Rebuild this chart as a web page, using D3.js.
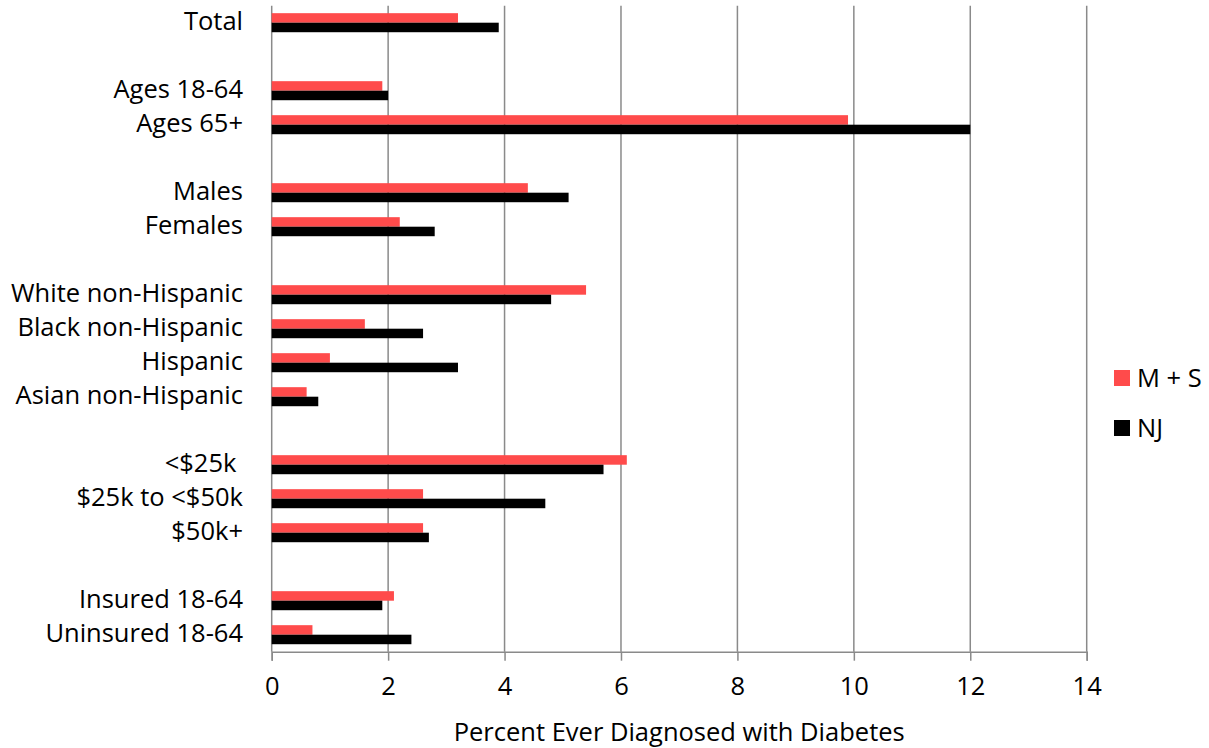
<!DOCTYPE html>
<html>
<head>
<meta charset="utf-8">
<script src="https://cdn.jsdelivr.net/npm/d3@7"></script>
<style>
  html, body { margin: 0; padding: 0; background: #ffffff; }
  svg { display: block; }
  text { font-family: "Open Sans", "DejaVu Sans", sans-serif; fill: #000; }
</style>
</head>
<body>
<svg id="chart" width="1209" height="748"></svg>
<script>
// ---- data ----
const categories = ["Total", "", "Ages 18-64", "Ages 65+", "", "Males", "Females", "",
  "White non-Hispanic", "Black non-Hispanic", "Hispanic", "Asian non-Hispanic", "",
  "<$25k ", "$25k to <$50k", "$50k+", "", "Insured 18-64", "Uninsured 18-64"];
const seriesNames = ["M + S", "NJ"];
const msValues = [3.2, null, 1.9, 9.9, null, 4.4, 2.2, null, 5.4, 1.6, 1.0, 0.6, null, 6.1, 2.6, 2.6, null, 2.1, 0.7];
const njValues = [3.9, null, 2.0, 12.0, null, 5.1, 2.8, null, 4.8, 2.6, 3.2, 0.8, null, 5.7, 4.7, 2.7, null, 1.9, 2.4];
const xTicks = [0, 2, 4, 6, 8, 10, 12, 14];
const xTitle = "Percent Ever Diagnosed with Diabetes";
const colors = ["#FF4B4B", "#000000"];

// ---- layout ----
const svg = d3.select("#chart");
const pLeft = 271.7, pRight = 1086.7, pTop = 5.7, pBottom = 651.7;
const fs = 25.5;

const x = d3.scaleLinear().domain([0, 14]).range([pLeft, pRight]);
const y = d3.scaleBand().domain(d3.range(categories.length)).range([pTop, pBottom]).padding(0);
const ySub = d3.scaleBand().domain(seriesNames)
  .range([y.bandwidth() * 0.22, y.bandwidth() * 0.78]).padding(0);

// gridlines
svg.append("g").selectAll("line").data(xTicks).join("line")
  .attr("x1", d => x(d)).attr("x2", d => x(d))
  .attr("y1", pTop).attr("y2", pBottom)
  .attr("stroke", "#8a8a8a").attr("stroke-width", 1.5);

// bars
const series = [msValues, njValues];
const rows = svg.append("g").selectAll("g").data(categories.map((c, i) => i)).join("g")
  .attr("transform", i => `translate(0,${y(i)})`);
rows.selectAll("rect")
  .data(i => seriesNames.map((s, k) => ({ s, k, v: series[k][i] })).filter(d => d.v !== null))
  .join("rect")
  .attr("x", x(0))
  .attr("y", d => ySub(d.s))
  .attr("width", d => x(d.v) - x(0))
  .attr("height", ySub.bandwidth())
  .attr("fill", d => colors[d.k]);

// x axis
const xAxis = d3.axisBottom(x).tickValues(xTicks).tickSize(9).tickPadding(16).tickFormat(d3.format("d"));
const gx = svg.append("g").attr("transform", `translate(0,${pBottom})`).call(xAxis);
gx.select(".domain").attr("stroke", "#8a8a8a").attr("stroke-width", 1.5);
gx.selectAll(".tick line").attr("stroke", "#8a8a8a").attr("stroke-width", 1.5);
gx.selectAll(".tick text").attr("font-size", fs).attr("font-family", "Open Sans").attr("fill", "#000");

// y labels
svg.append("g").selectAll("text").data(categories.map((c, i) => ({ c, i })).filter(d => d.c !== ""))
  .join("text")
  .attr("x", 243)
  .attr("y", d => y(d.i) + y.bandwidth() / 2)
  .attr("dy", "0.27em")
  .attr("text-anchor", "end")
  .attr("font-size", fs)
  .attr("xml:space", "preserve")
  .text(d => d.c);

// axis title
svg.append("text")
  .attr("x", (pLeft + pRight) / 2).attr("y", 741)
  .attr("text-anchor", "middle").attr("font-size", fs)
  .text(xTitle);

// legend
const lg = svg.append("g").selectAll("g").data(seriesNames).join("g")
  .attr("transform", (d, i) => `translate(1114,${370 + i * 50})`);
lg.append("rect").attr("width", 16).attr("height", 16).attr("fill", (d, i) => colors[i]);
lg.append("text").attr("x", 23).attr("y", 17).attr("font-size", fs).text(d => d);
</script>
</body>
</html>
